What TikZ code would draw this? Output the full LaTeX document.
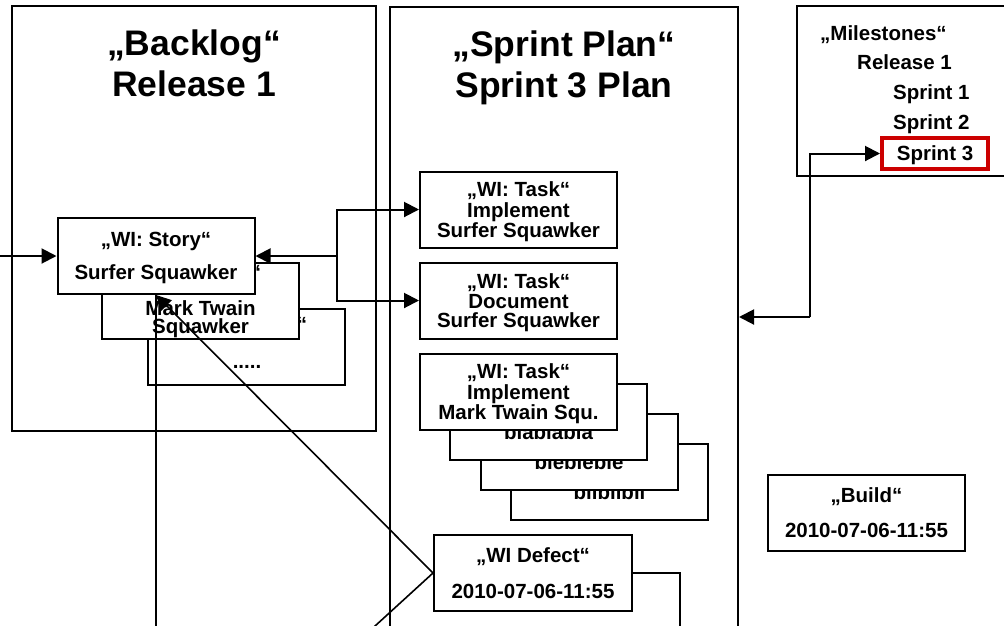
\documentclass[tikz,border=0pt]{standalone}
\usepackage{fontspec}
\setmainfont{Liberation Sans}
\usetikzlibrary{arrows.meta, positioning}
\definecolor{msred}{RGB}{204,0,0}

\begin{document}
\begin{tikzpicture}[
    x=1pt, y=-1pt,
    frame/.style={draw, line width=2pt, fill=white, inner sep=0pt},
    box/.style={frame, minimum width=197pt, minimum height=76pt, align=center, text depth=0pt, font={\fontsize{20.5}{19}\selectfont\bfseries}},
    ttl/.style={align=center, inner sep=0pt, font={\fontsize{35.5}{41}\selectfont\bfseries}},
    txt/.style={inner sep=0pt, font={\fontsize{20.5}{19}\selectfont\bfseries}},
    arr/.style={-{Triangle[length=15pt, width=15pt]}, line width=2pt},
    defline/.style={line width=1.6pt},
]
\useasboundingbox[fill=white] (0,0) rectangle (1004,625);

% ---- Backlog ----
\node[frame, minimum width=364pt, minimum height=425pt] (backlog) at (194,218.5) {};
\node[ttl, anchor=north] (backlogttl) at ([shift={(0,25)}]backlog.north) {„Backlog“\\Release 1};

% ---- Sprint Plan ----
\node[frame, minimum width=348pt, minimum height=700pt, anchor=north] (plan) at (564,6) {};
\node[ttl, anchor=north] (planttl) at ([shift={(0,25)}]plan.north) {„Sprint Plan“\\Sprint 3 Plan};

% ---- Milestones ----
\node[frame, minimum width=220pt, minimum height=170pt] (miles) at (907,91) {};
\node[txt, anchor=base west] (ms0) at (820,40) {„Milestones“};
\node[txt, anchor=base west] (ms1) at (857,69) {Release 1};
\node[txt, anchor=base west] (ms2) at (893,99) {Sprint 1};
\node[txt, anchor=base west] (ms3) at (893,129) {Sprint 2};
\node[txt, draw=msred, line width=4pt, minimum width=106pt, minimum height=31pt, text depth=0pt] (s3) at (935,153.5) {Sprint 3};

% ---- Stories ----
\node[box] (story3) at (246,346.5) {};
\node[txt, anchor=north] (story3q) at (302,317) {“};
\node[txt] (story3txt) at (247,367) {.....};
\node[box] (story2) at (200.5,301) {};
\node[txt, anchor=north] (story2q) at (256,265) {“};
\node[txt, align=center] (story2txt) at (200.5,319.5) {Mark Twain\\[-1pt]Squawker};
\node[box] (story1) at (156,256) {„WI: Story“\\[13pt]Surfer Squawker};

% ---- Tasks ----
\node[box] (t1) at (518.5,209.5) {„WI: Task“\\[1.5pt]Implement\\Surfer Squawker};
\node[box] (t2) at (518.5,300.5) {„WI: Task“\\[1.5pt]Document\\Surfer Squawker};
\node[box] (t6) at (609.5,481.5) {};
\node[txt] (t6txt) at ([shift={(0,11)}]t6.center) {bliblibli};
\node[box] (t5) at (579,451.5) {};
\node[txt] (t5txt) at ([shift={(0,11)}]t5.center) {blebleble};
\node[box] (t4) at (548.5,421.5) {};
\node[txt] (t4txt) at ([shift={(0,11)}]t4.center) {blablabla};
\node[box] (t3) at (518.5,391.5) {„WI: Task“\\[1.5pt]Implement\\Mark Twain Squ.};

% ---- Defect, Build ----
\node[box, minimum width=198pt] (defect) at (533,573) {„WI Defect“\\[17pt]2010-07-06-11:55};
\node[box] (build) at (866.5,512.5) {„Build“\\[16pt]2010-07-06-11:55};

% ---- Connectors ----
\coordinate (in0) at (-5,256);
\coordinate (br) at (337,256);
\coordinate (mc) at (810,317);
\coordinate (vfoot) at (156,640);
\coordinate (dfoot) at (340,658);
\coordinate (efoot) at (680,640);

\draw[arr] (in0) -- (story1.west);
\draw[arr] (br) -- (story1.east);
\draw[arr] (br) |- (t1.west);
\draw[arr] (br) |- (t2.west);
\draw[arr] (mc) -- (mc -| plan.east);
\draw[arr] (mc) |- (s3.west);
\draw[defline] (vfoot) -- (story1.south);
\draw[arr, defline] (defect.west) -- (story1.south);
\draw[defline] (defect.west) -- (dfoot);
\draw[defline] (defect.east) -| (efoot);

\end{tikzpicture}
\end{document}
